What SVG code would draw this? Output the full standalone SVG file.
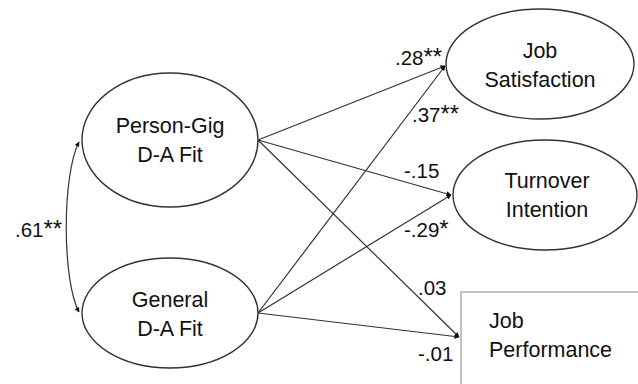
<svg xmlns="http://www.w3.org/2000/svg" width="638" height="384" viewBox="0 0 638 384">
<defs>
<marker id="ah" viewBox="0 0 10 10" refX="9" refY="5" markerWidth="5" markerHeight="5" orient="auto-start-reverse" markerUnits="userSpaceOnUse">
<path d="M0,0 L10,5 L0,10 z" fill="#111"/>
</marker>
<style>
.node{fill:#fff;stroke:#333;stroke-width:1.4}
.box{fill:#fff;stroke:#999;stroke-width:1.2}
.t{font-family:"Liberation Sans",Arial,sans-serif;font-size:21.5px;fill:#111}
.c{text-anchor:middle}
.lbl{font-family:"Liberation Sans",Arial,sans-serif;font-size:20.5px;fill:#111}
.st{font-size:24px}
.e{fill:none;stroke:#333;stroke-width:1.2;marker-end:url(#ah)}
</style>
</defs>
<rect width="638" height="384" fill="#fff"/>
<g id="connectors">
<line class="e" x1="258" y1="140" x2="445" y2="66"/>
<line class="e" x1="258" y1="140" x2="451" y2="195"/>
<line class="e" x1="258" y1="140" x2="459" y2="337"/>
<line class="e" x1="258" y1="313" x2="445" y2="66"/>
<line class="e" x1="258" y1="313" x2="451" y2="195"/>
<line class="e" x1="258" y1="313" x2="459" y2="337"/>
<path class="e" d="M79,142 C62,175 62,280 79,312" style="marker-start:url(#ah)"/>
</g>
<g id="person-gig">
<ellipse class="node" cx="170" cy="140" rx="88" ry="67"/>
<text class="t c" x="170" y="133">Person-Gig</text>
<text class="t c" x="170" y="162">D-A Fit</text>
</g>
<g id="general">
<ellipse class="node" cx="170" cy="313" rx="88" ry="55"/>
<text class="t c" x="170" y="307">General</text>
<text class="t c" x="170" y="336">D-A Fit</text>
</g>
<g id="job-satisfaction">
<ellipse class="node" cx="540" cy="64" rx="94" ry="55"/>
<text class="t c" x="540" y="58">Job</text>
<text class="t c" x="540" y="87">Satisfaction</text>
</g>
<g id="turnover">
<ellipse class="node" cx="545" cy="195" rx="92" ry="55"/>
<text class="t c" x="547" y="188">Turnover</text>
<text class="t c" x="547" y="217">Intention</text>
</g>
<g id="job-performance">
<rect class="box" x="461" y="292" width="190" height="110"/>
<text class="t" x="489" y="328">Job</text>
<text class="t" x="489" y="357">Performance</text>
</g>
<g id="labels">
<text class="lbl" x="395" y="65">.28<tspan class="st">**</tspan></text>
<text class="lbl" x="412" y="122">.37<tspan class="st">**</tspan></text>
<text class="lbl" x="404" y="178">-.15</text>
<text class="lbl" x="404" y="237">-.29<tspan class="st">*</tspan></text>
<text class="lbl" x="418" y="295">.03</text>
<text class="lbl" x="418" y="361">-.01</text>
<text class="lbl" x="15" y="237">.61<tspan class="st">**</tspan></text>
</g>
</svg>
